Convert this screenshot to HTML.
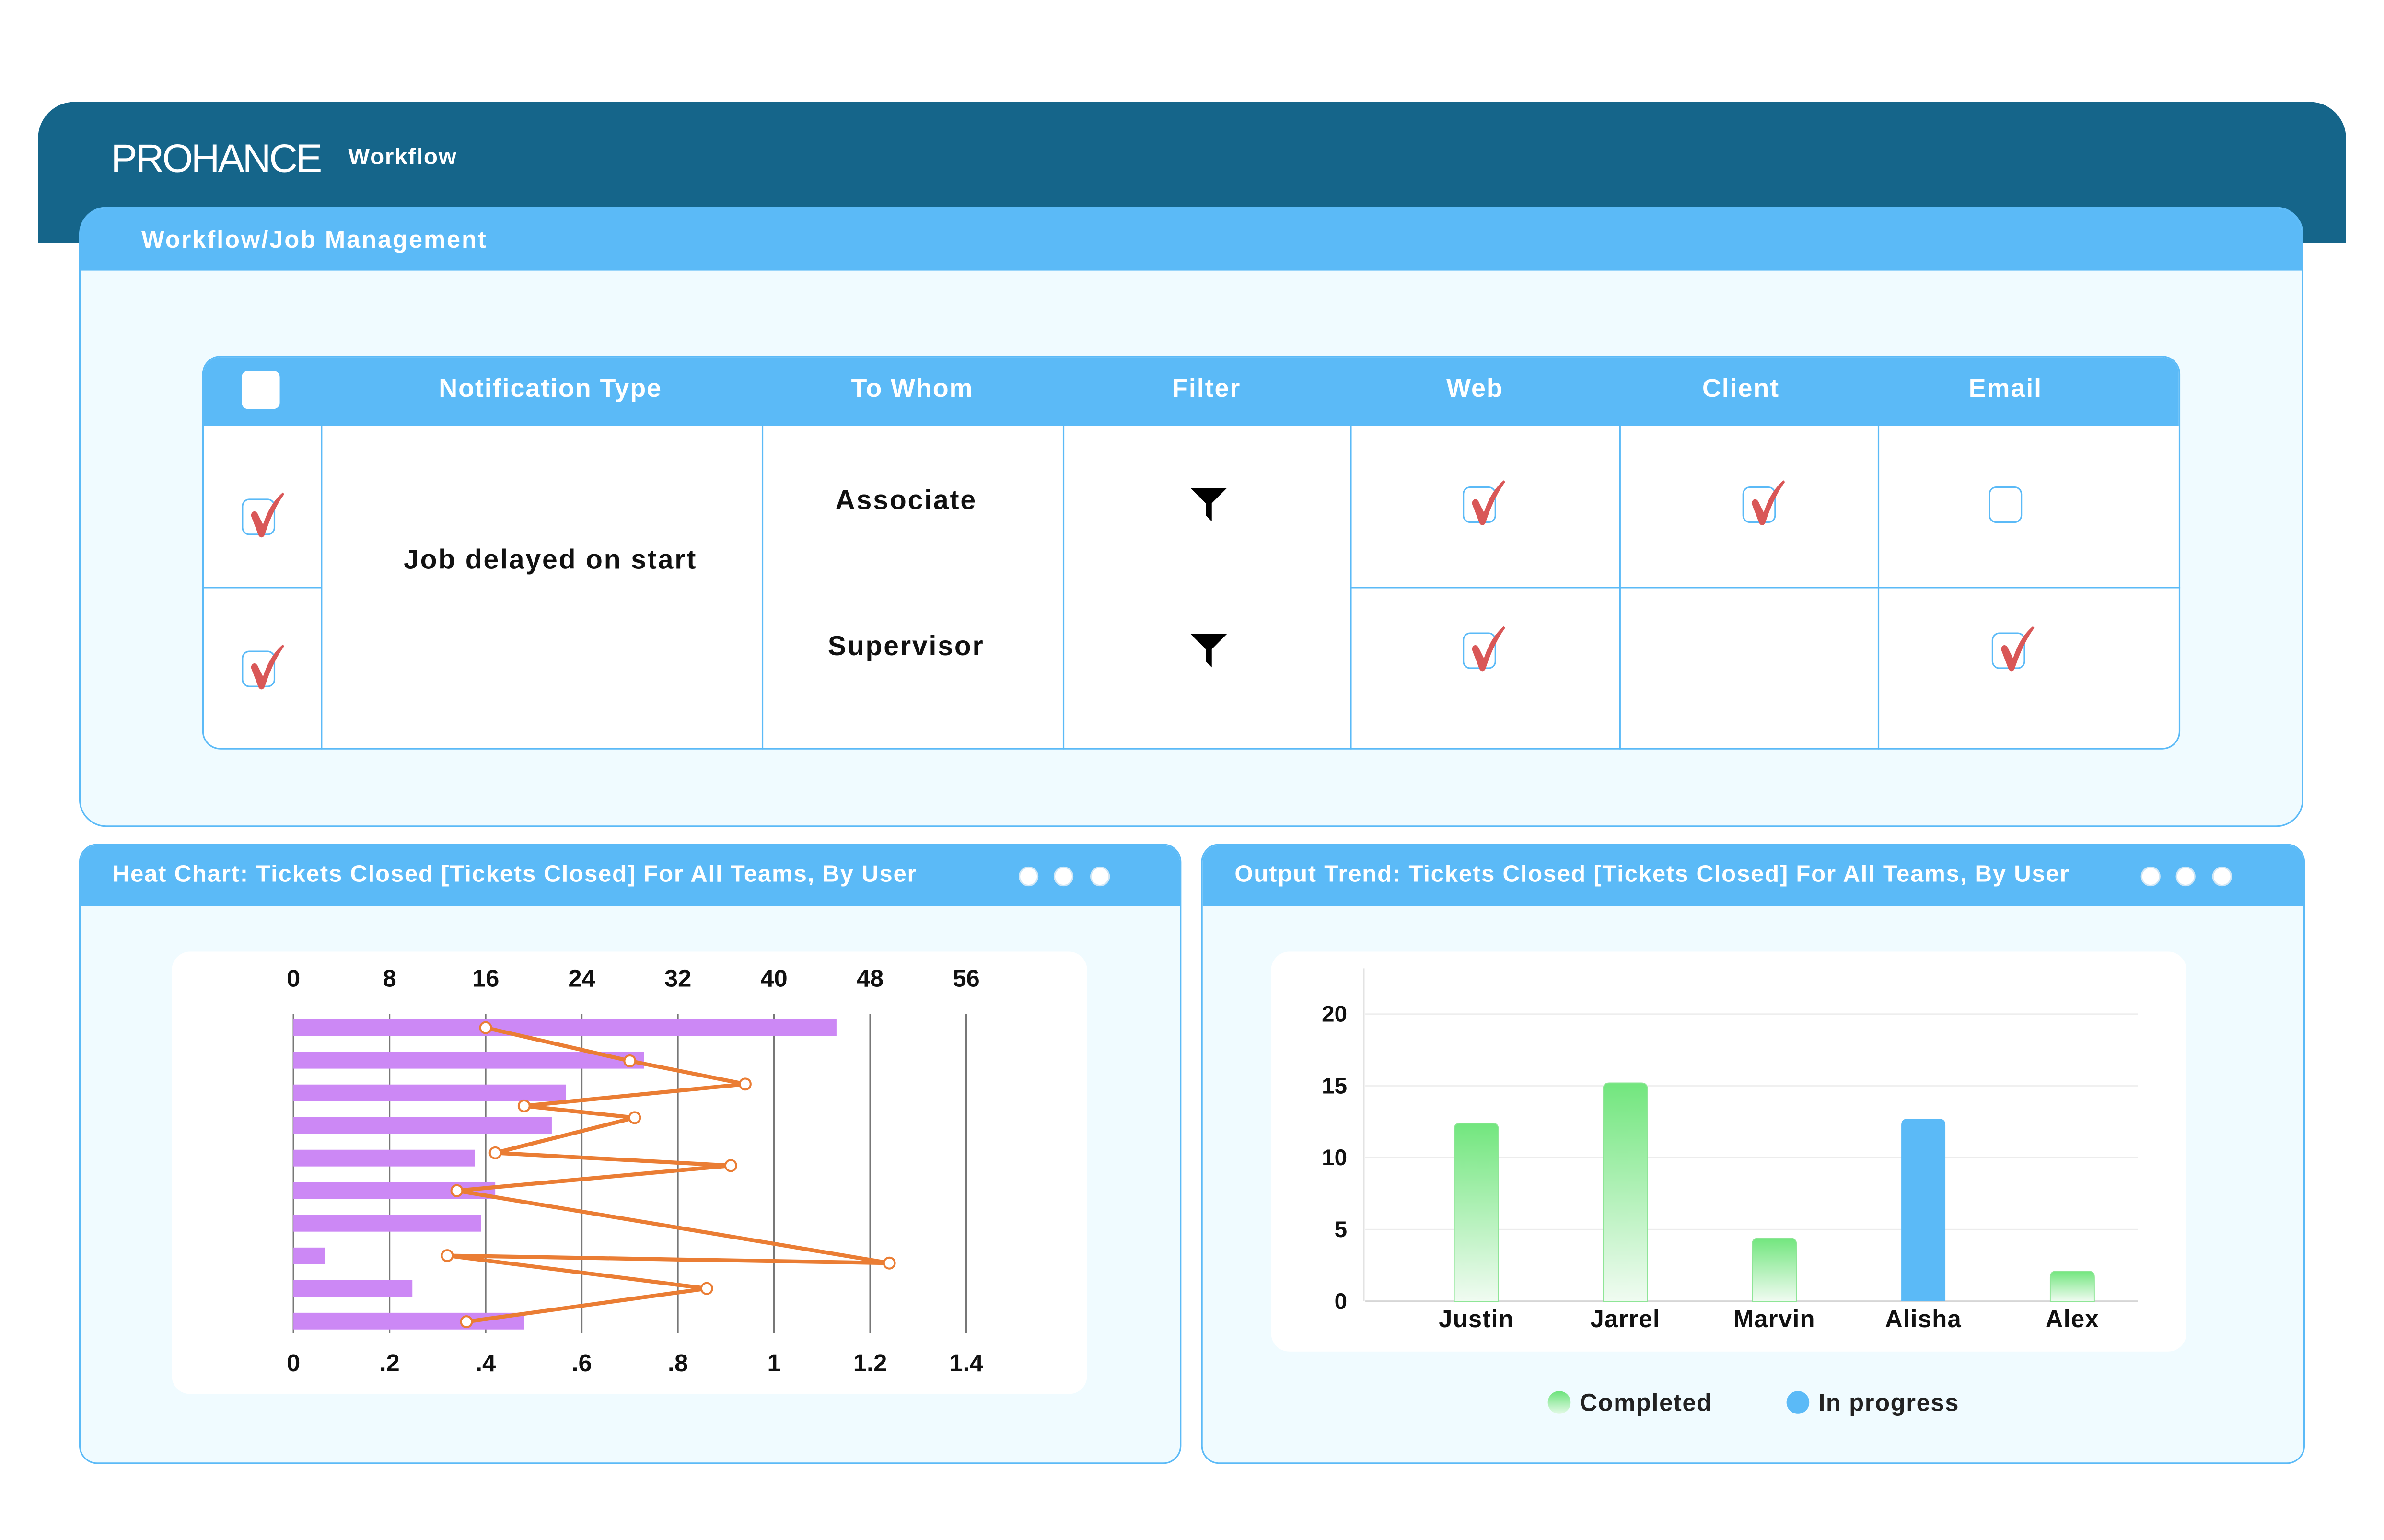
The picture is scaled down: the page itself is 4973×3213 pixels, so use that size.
<!DOCTYPE html>
<html><head><meta charset="utf-8">
<style>
html,body{margin:0;padding:0;background:#fff;}
body{width:4973px;height:3213px;overflow:hidden;position:relative;font-family:"Liberation Sans",sans-serif;}
#stage{position:absolute;left:0;top:0;width:1568px;height:1013px;transform-origin:0 0;transform:scale(3.1716,3.1718);}
.abs{position:absolute;}
.t{font-weight:bold;color:#111;letter-spacing:0.9px;}
.hdr{color:#fff;font-weight:bold;font-size:15.5px;letter-spacing:0.55px;white-space:nowrap;}
.dot{position:absolute;width:11px;height:11px;border-radius:50%;background:#fff;border:1px solid #cfe6f5;top:570px;}
.cb{position:absolute;width:22px;height:24px;border:1.5px solid #5bbaf7;border-radius:5px;background:#fff;box-sizing:border-box;}
.chk{position:absolute;width:30px;height:32px;}
.vl{position:absolute;width:1px;background:#5bbaf7;}
.hl{position:absolute;height:1px;background:#5bbaf7;}
.th{position:absolute;top:246px;color:#fff;font-weight:bold;font-size:17px;text-align:center;letter-spacing:0.6px;}
</style></head><body>
<div id="stage">
  <div class="abs" style="left:25px;top:67px;width:1518px;height:93px;background:#15658a;border-radius:24px 24px 0 0;"></div>
  <div class="abs" style="left:73px;top:89px;color:#fff;font-size:26px;letter-spacing:-1.2px;">PROHANCE</div>
  <div class="abs hdr" style="left:229px;top:95px;font-size:15px;">Workflow</div>

  <div class="abs" style="left:52px;top:136px;width:1463px;height:408px;background:#f0fbff;border:1px solid #5bbaf7;border-radius:18px;box-sizing:border-box;overflow:hidden;">
    <div class="abs" style="left:0;top:0;width:100%;height:41px;background:#5bbaf7;"></div>
  </div>
  <div class="abs hdr" style="left:93px;top:150px;font-size:16px;letter-spacing:0.9px;">Workflow/Job Management</div>

  <div class="abs" style="left:133px;top:234px;width:1301px;height:259px;background:#fff;border:1px solid #5bbaf7;border-radius:12px;box-sizing:border-box;overflow:hidden;">
    <div class="abs" style="left:0;top:0;width:100%;height:45px;background:#5bbaf7;"></div>
  </div>
  <div class="abs" style="left:159px;top:244px;width:25px;height:25px;background:#fff;border-radius:4px;"></div>
  <div class="th" style="left:211px;width:302px;">Notification Type</div>
  <div class="th" style="left:501px;width:198px;">To Whom</div>
  <div class="th" style="left:699px;width:189px;">Filter</div>
  <div class="th" style="left:888px;width:164px;">Web</div>
  <div class="th" style="left:1065px;width:160px;">Client</div>
  <div class="th" style="left:1235px;width:168px;">Email</div>
  <div class="vl" style="left:211px;top:279px;height:214px;"></div>
  <div class="vl" style="left:501px;top:279px;height:214px;"></div>
  <div class="vl" style="left:699px;top:279px;height:214px;"></div>
  <div class="vl" style="left:888px;top:279px;height:214px;"></div>
  <div class="vl" style="left:1065px;top:279px;height:214px;"></div>
  <div class="vl" style="left:1235px;top:279px;height:214px;"></div>
  <div class="hl" style="left:133px;top:386px;width:78px;"></div>
  <div class="hl" style="left:888px;top:386px;width:546px;"></div>
  <div class="abs t" style="left:211px;top:358px;width:302px;text-align:center;font-size:18px;">Job delayed on start</div>
  <div class="abs t" style="left:497px;top:319px;width:198px;text-align:center;font-size:18px;">Associate</div>
  <div class="abs t" style="left:497px;top:415px;width:198px;text-align:center;font-size:18px;">Supervisor</div>
  <svg class="abs" style="left:783px;top:321px;" width="24" height="22" viewBox="0 0 24 22"><path d="M0 0H24L14 10V22L10 18V10Z" fill="#000"/></svg>
  <svg class="abs" style="left:783px;top:417px;" width="24" height="22" viewBox="0 0 24 22"><path d="M0 0H24L14 10V22L10 18V10Z" fill="#000"/></svg>

  <div id="checks"></div>

  <div class="abs" style="left:52px;top:555px;width:725px;height:408px;background:#f0fbff;border:1px solid #5bbaf7;border-radius:12px;box-sizing:border-box;overflow:hidden;">
    <div class="abs" style="left:0;top:0;width:100%;height:40px;background:#5bbaf7;"></div>
  </div>
  <div class="abs hdr" style="left:74px;top:567px;">Heat Chart: Tickets Closed [Tickets Closed] For All Teams, By User</div>
  <div class="dot" style="left:670px;"></div>
  <div class="dot" style="left:693px;"></div>
  <div class="dot" style="left:717px;"></div>
  <div class="abs" style="left:113px;top:626px;width:602px;height:291px;background:#fff;border-radius:12px;"></div>
  <svg class="abs" id="leftChart" style="left:0;top:0;" width="1568" height="1013"></svg>

  <div class="abs" style="left:790px;top:555px;width:726px;height:408px;background:#f0fbff;border:1px solid #5bbaf7;border-radius:12px;box-sizing:border-box;overflow:hidden;">
    <div class="abs" style="left:0;top:0;width:100%;height:40px;background:#5bbaf7;"></div>
  </div>
  <div class="abs hdr" style="left:812px;top:567px;">Output Trend: Tickets Closed [Tickets Closed] For All Teams, By User</div>
  <div class="dot" style="left:1408px;"></div>
  <div class="dot" style="left:1431px;"></div>
  <div class="dot" style="left:1455px;"></div>
  <div class="abs" style="left:836px;top:626px;width:602px;height:263px;background:#fff;border-radius:12px;"></div>
  <svg class="abs" id="rightChart" style="left:0;top:0;" width="1568" height="1013">
    <defs>
      <linearGradient id="gg" x1="0" y1="0" x2="0" y2="1"><stop offset="0" stop-color="#72e67e"/><stop offset="1" stop-color="#f0fbf1"/></linearGradient>
    </defs>
  </svg>
  <div class="abs" style="left:1018px;top:915px;font-size:16px;font-weight:bold;color:#222;letter-spacing:0.5px;"><span style="display:inline-block;width:15px;height:15px;border-radius:50%;background:linear-gradient(#6be27a,#e3fae6);vertical-align:-2px;margin-right:6px;"></span>Completed</div>
  <div class="abs" style="left:1175px;top:915px;font-size:16px;font-weight:bold;color:#222;letter-spacing:0.5px;"><span style="display:inline-block;width:15px;height:15px;border-radius:50%;background:#5bbaf7;vertical-align:-2px;margin-right:6px;"></span>In progress</div>
</div>
<script>
const checkboxCells = [[172,340,true],[172,440,true],[975,332,true],[1159,332,true],[1321,332,false],[975,428,true],[1323,428,true]];
const ck = document.getElementById('checks');
checkboxCells.forEach(function(c){
  const b=document.createElement('div');
  b.className='cb';
  b.style.left=(c[0]-13)+'px'; b.style.top=(c[1]-12)+'px';
  
  
  ck.appendChild(b);
  if(c[2]){
    const s=document.createElementNS('http://www.w3.org/2000/svg','svg');
    s.setAttribute('class','chk');
    s.setAttribute('viewBox','0 0 30 32');
    s.style.left=(c[0]-10)+'px'; s.style.top=(c[1]-17)+'px';
    s.innerHTML='<path d="M3 16 C4 12 7 13 8 16 L11 22 C14 13 18 6 24 1 L25 2 C20 9 16 17 12 29 C11 31 9 31 8 29 Z" fill="#d95757"/>';
    
    
    ck.appendChild(s);
  }
});

const topTicks = [0,8,16,24,32,40,48,56];
const bottomTicks = ["0",".2",".4",".6",".8","1","1.2","1.4"];
const barValues = [45.2,29.2,22.7,21.5,15.1,16.8,15.6,2.6,9.9,19.2];
const lineValues = [0.40,0.70,0.94,0.48,0.71,0.42,0.91,0.34,1.24,0.32,0.86,0.36];
const lineRowPos = [0,1.02,1.73,2.40,2.76,3.84,4.23,5.0,7.22,6.99,8.0,9.02];

const NS='http://www.w3.org/2000/svg';
function mk(svg,tag,attrs){const e=document.createElementNS(NS,tag);for(const k in attrs)e.setAttribute(k,attrs[k]);svg.appendChild(e);return e;}

(function(){
  const svg=document.getElementById('leftChart');
  const x0=193, x1=635.5;
  const xTop=v=>x0+(v/56)*(x1-x0);
  const xBot=v=>x0+(v/1.4)*(x1-x0);
  const rowY=i=>676+i*(869-676)/9;
  topTicks.forEach(function(t,i){
    const x=xTop(t);
    const g=mk(svg,'line',{x1:x,x2:x,y1:667,y2:877,stroke:'#777','stroke-width':1});
    
    
    const a=mk(svg,'text',{x:x,y:649,'text-anchor':'middle','font-size':16,'font-weight':'bold','font-family':'Liberation Sans, sans-serif',fill:'#111'});
    a.textContent=t;
    
    
    const b=mk(svg,'text',{x:x,y:902,'text-anchor':'middle','font-size':16,'font-weight':'bold','font-family':'Liberation Sans, sans-serif',fill:'#111'});
    b.textContent=bottomTicks[i];
    
    
  });
  barValues.forEach(function(v,i){
    const r=mk(svg,'rect',{x:x0,y:rowY(i)-5.5,width:xTop(v)-x0,height:11,fill:'#cc88f5'});
    
    
  });
  const pts=lineValues.map((v,i)=>[xBot(v),rowY(lineRowPos[i])]);
  const pl=mk(svg,'polyline',{points:pts.map(p=>p.join(',')).join(' '),fill:'none',stroke:'#ea7d34','stroke-width':2.6});
  
  
  pts.forEach(function(p){
    const c=mk(svg,'circle',{cx:p[0],cy:p[1],r:3.6,fill:'#fff',stroke:'#ea7d34','stroke-width':1.3});
    
    
  });
})();

const users = ["Justin","Jarrel","Marvin","Alisha","Alex"];
const userValues = [12.4,15.2,4.4,12.7,2.1];
const userStatus = ["completed","completed","completed","progress","completed"];
const yTicks = [0,5,10,15,20];

(function(){
  const svg=document.getElementById('rightChart');
  const y=v=>856-v*9.45;
  const xc=i=>971+i*98;
  yTicks.forEach(function(t){
    const l=mk(svg,'line',{x1:898,x2:1406,y1:y(t),y2:y(t),stroke:t===0?'#d6d6d6':'#ececec','stroke-width':t===0?1.2:0.8});
    
    
    const tx=mk(svg,'text',{x:886,y:y(t)+5,'text-anchor':'end','font-size':15,'font-weight':'bold','font-family':'Liberation Sans, sans-serif',fill:'#111'});
    tx.textContent=t;
    
    
  });
  const ax=mk(svg,'line',{x1:897,x2:897,y1:637,y2:856,stroke:'#e3e3e3','stroke-width':1});
  
  
  userValues.forEach(function(v,i){
    const top=y(v);
    const p=mk(svg,'path',{d:'M'+(xc(i)-14.5)+' 856 V'+(top+4)+' Q'+(xc(i)-14.5)+' '+top+' '+(xc(i)-10.5)+' '+top+' H'+(xc(i)+10.5)+' Q'+(xc(i)+14.5)+' '+top+' '+(xc(i)+14.5)+' '+(top+4)+' V856 Z',
      fill:userStatus[i]==='progress'?'#5bbaf7':'url(#gg)',stroke:userStatus[i]==='progress'?'none':'#8ee596','stroke-width':0.6});
    
    
    const t=mk(svg,'text',{x:xc(i),y:873,'text-anchor':'middle','font-size':16,'font-weight':'bold','font-family':'Liberation Sans, sans-serif',fill:'#111','letter-spacing':0.4});
    t.textContent=users[i];
    
    
  });
})();
</script>
</body></html>
